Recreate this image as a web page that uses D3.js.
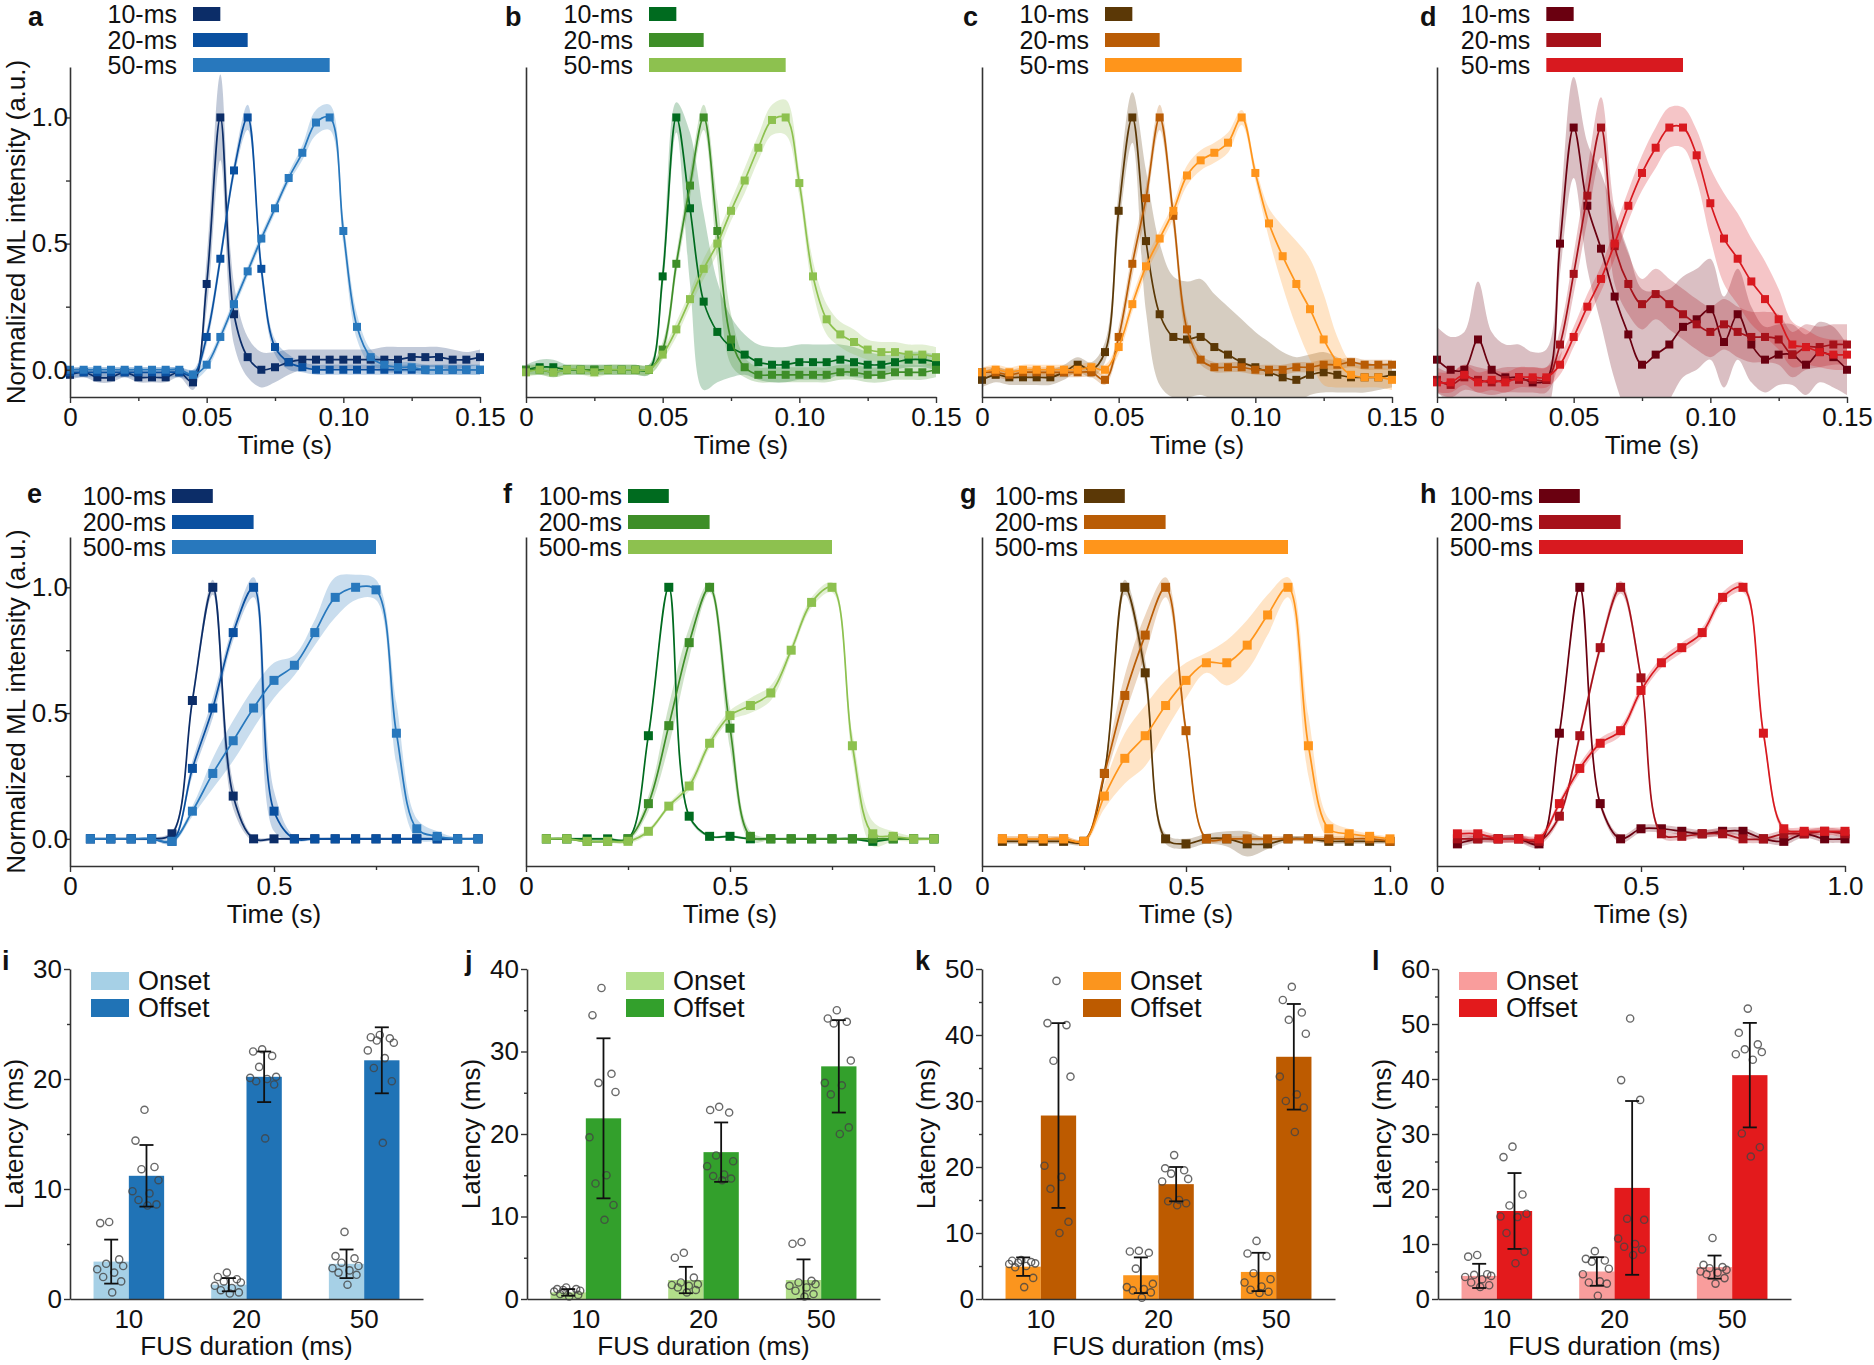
<!DOCTYPE html>
<html><head><meta charset="utf-8">
<script src="https://cdn.jsdelivr.net/npm/d3@7"></script>
<style>body{margin:0;background:#fff}svg{display:block;font-family:"Liberation Sans",Arial,sans-serif}</style>
</head><body><svg id="c" width="1874" height="1365"></svg>
<script>
// ---------------- DATA ----------------
const tShort = [0,0.005,0.01,0.015,0.02,0.025,0.03,0.035,0.04,0.045,0.05,0.055,0.06,0.065,0.07,0.075,0.08,0.085,0.09,0.095,0.1,0.105,0.11,0.115,0.12,0.125,0.13,0.135,0.14,0.145,0.15];
const tLong = [0.05,0.1,0.15,0.2,0.25,0.3,0.35,0.4,0.45,0.5,0.55,0.6,0.65,0.7,0.75,0.8,0.85,0.9,0.95,1.0];
const shortLabels = ["10-ms","20-ms","50-ms"];
const shortDur = [0.01,0.02,0.05];
const shortStarts = [0.045,0.045,0.045,0.04];
const longLabels = ["100-ms","200-ms","500-ms"];
const longDur = [0.1,0.2,0.5];
const longStarts = [0.25,0.25,0.25,0.25];
const shortTicks = [0,0.05,0.1,0.15];
const shortTickLabels = ["0","0.05","0.10","0.15"];
const shortMinor = [0.025,0.075,0.125];
const longTicks = [0,0.5,1.0];
const longTickLabels = ["0","0.5","1.0"];
const longMinor = [0.25,0.75];
const yTicks = [0,0.5,1.0];
const yTickLabels = ["0.0","0.5","1.0"];
const yMinor = [0.25,0.75];

// panel a (blue, short)
const a10 = [-0.02,-0.01,-0.03,-0.03,-0.01,-0.03,-0.03,-0.03,-0.01,-0.05,0.34,1.00,0.22,0.05,0.00,0.01,0.03,0.04,0.04,0.04,0.04,0.04,0.04,0.04,0.04,0.05,0.05,0.05,0.04,0.04,0.05];
const a10sd = [0.02,0.02,0.02,0.02,0.02,0.02,0.02,0.02,0.02,0.03,0.10,0.17,0.12,0.08,0.07,0.06,0.05,0.04,0.04,0.04,0.04,0.04,0.04,0.05,0.05,0.04,0.04,0.04,0.04,0.03,0.03];
const a20 = [-0.01,-0.01,-0.01,-0.01,-0.01,-0.01,-0.01,-0.01,-0.01,-0.02,0.13,0.44,0.79,1.00,0.40,0.09,0.03,0.01,0.00,0.00,0.00,0.00,0.00,0.00,0.00,0.00,0.00,0.00,0.00,0.00,0.00];
const a20sd = [0.02,0.02,0.02,0.02,0.02,0.02,0.02,0.02,0.02,0.02,0.03,0.03,0.03,0.05,0.04,0.03,0.03,0.02,0.02,0.02,0.02,0.02,0.02,0.02,0.02,0.02,0.02,0.02,0.02,0.02,0.02];
const a50 = [0.00,0.00,0.00,0.00,0.00,0.00,0.00,0.00,0.00,-0.02,0.02,0.13,0.26,0.39,0.52,0.64,0.76,0.86,0.98,1.00,0.55,0.17,0.05,0.02,0.01,0.01,0.00,0.00,0.00,0.00,0.00];
const a50sd = [0.01,0.01,0.01,0.01,0.01,0.01,0.01,0.01,0.01,0.02,0.02,0.02,0.02,0.02,0.02,0.02,0.02,0.03,0.05,0.05,0.05,0.05,0.03,0.02,0.02,0.02,0.02,0.02,0.02,0.02,0.02];
// panel b (green, short)
const b10 = [0.00,0.01,0.01,0.00,0.00,0.00,0.00,0.00,0.00,0.00,0.37,1.00,0.64,0.27,0.15,0.09,0.06,0.03,0.02,0.02,0.03,0.03,0.03,0.04,0.03,0.02,0.02,0.03,0.04,0.04,0.03];
const b10sd = [0.02,0.03,0.03,0.02,0.02,0.02,0.02,0.02,0.02,0.02,0.05,0.06,0.30,0.35,0.20,0.12,0.08,0.07,0.07,0.07,0.07,0.07,0.07,0.06,0.06,0.05,0.04,0.03,0.03,0.03,0.03];
const b20 = [0.00,0.00,-0.01,0.00,0.00,0.00,0.00,0.00,0.00,0.00,0.08,0.42,0.73,1.00,0.55,0.12,0.01,-0.02,-0.02,-0.02,-0.02,-0.02,-0.02,-0.01,-0.01,-0.02,-0.02,-0.01,-0.01,-0.01,0.00];
const b20sd = [0.02,0.02,0.02,0.02,0.02,0.02,0.02,0.02,0.02,0.02,0.03,0.04,0.05,0.05,0.12,0.10,0.04,0.03,0.03,0.03,0.03,0.03,0.03,0.03,0.03,0.03,0.03,0.03,0.03,0.03,0.03];
const b50 = [-0.01,0.00,-0.01,0.00,0.00,-0.01,0.00,0.00,0.00,0.00,0.06,0.16,0.28,0.40,0.50,0.63,0.75,0.88,0.99,1.00,0.74,0.37,0.20,0.14,0.11,0.08,0.07,0.07,0.06,0.06,0.05];
const b50sd = [0.02,0.02,0.02,0.02,0.02,0.02,0.02,0.02,0.02,0.02,0.02,0.03,0.03,0.04,0.04,0.04,0.05,0.05,0.06,0.07,0.05,0.06,0.06,0.05,0.05,0.04,0.04,0.04,0.04,0.04,0.04];
// panel c (orange, short)
const c10 = [-0.04,-0.02,-0.03,-0.03,-0.03,-0.03,-0.01,0.02,0.00,0.07,0.63,1.00,0.51,0.22,0.13,0.12,0.13,0.09,0.06,0.03,0.01,-0.01,-0.03,-0.04,-0.02,-0.01,-0.02,-0.03,-0.03,-0.03,-0.02];
const c10sd = [0.03,0.03,0.03,0.03,0.03,0.03,0.03,0.03,0.03,0.04,0.08,0.10,0.28,0.28,0.24,0.23,0.23,0.21,0.19,0.17,0.14,0.12,0.10,0.09,0.08,0.08,0.07,0.06,0.06,0.05,0.05];
const c20 = [-0.01,-0.01,-0.02,-0.01,-0.01,-0.01,-0.01,-0.01,-0.01,-0.04,0.13,0.42,0.68,1.00,0.61,0.16,0.04,0.01,0.01,0.01,0.00,0.00,0.00,0.01,0.01,0.02,0.02,0.03,0.02,0.02,0.02];
const c20sd = [0.02,0.02,0.02,0.02,0.02,0.02,0.02,0.02,0.02,0.02,0.04,0.05,0.05,0.05,0.05,0.04,0.02,0.02,0.02,0.02,0.02,0.02,0.02,0.02,0.02,0.02,0.02,0.02,0.02,0.02,0.02];
const c50 = [-0.01,0.00,-0.01,0.00,0.00,0.00,0.00,0.00,0.01,0.00,0.09,0.26,0.41,0.52,0.63,0.77,0.83,0.86,0.90,1.00,0.78,0.58,0.45,0.34,0.24,0.12,0.03,-0.02,-0.03,-0.03,-0.04];
const c50sd = [0.02,0.02,0.02,0.02,0.02,0.02,0.02,0.02,0.02,0.02,0.03,0.03,0.03,0.03,0.03,0.04,0.04,0.04,0.04,0.03,0.03,0.06,0.12,0.17,0.20,0.18,0.10,0.05,0.04,0.04,0.04];
// panel d (red, short)
const d10 = [0.04,0.00,0.00,0.12,0.00,-0.03,-0.03,-0.05,-0.04,0.50,0.96,0.65,0.48,0.29,0.14,0.02,0.06,0.10,0.17,0.20,0.24,0.11,0.22,0.10,0.04,0.06,0.06,0.02,0.07,0.05,0.00];
const d10sd = [0.13,0.13,0.15,0.23,0.15,0.13,0.13,0.12,0.12,0.12,0.20,0.25,0.30,0.33,0.33,0.30,0.25,0.22,0.20,0.20,0.20,0.18,0.18,0.15,0.13,0.12,0.12,0.12,0.12,0.12,0.10];
const d20 = [-0.04,-0.06,-0.03,-0.04,-0.05,-0.04,-0.04,-0.04,-0.04,0.10,0.38,0.69,0.96,0.49,0.34,0.26,0.30,0.26,0.22,0.18,0.15,0.18,0.15,0.13,0.13,0.12,0.06,0.09,0.09,0.10,0.10];
const d20sd = [0.05,0.05,0.05,0.05,0.05,0.05,0.05,0.05,0.05,0.06,0.08,0.10,0.12,0.15,0.12,0.10,0.10,0.10,0.10,0.10,0.10,0.10,0.10,0.10,0.10,0.10,0.09,0.09,0.08,0.08,0.08];
const d50 = [-0.05,-0.05,-0.02,-0.05,-0.04,-0.05,-0.03,-0.03,-0.03,0.02,0.13,0.25,0.36,0.50,0.65,0.78,0.88,0.96,0.96,0.85,0.66,0.52,0.44,0.35,0.28,0.20,0.10,0.09,0.07,0.06,0.06];
const d50sd = [0.04,0.04,0.04,0.04,0.04,0.04,0.04,0.04,0.04,0.04,0.04,0.05,0.05,0.06,0.06,0.07,0.08,0.08,0.08,0.10,0.14,0.18,0.18,0.17,0.15,0.12,0.09,0.07,0.06,0.06,0.06];
// panel e (blue, long)
const e100 = [0.00,0.00,0.00,0.00,0.02,0.55,1.00,0.17,0.00,0.00,0.00,0.00,0.00,0.00,0.00,0.00,0.00,0.00,0.00,0.00];
const e100sd = [0.005,0.005,0.005,0.005,0.01,0.02,0.03,0.05,0.01,0.005,0.005,0.005,0.005,0.005,0.005,0.005,0.005,0.005,0.005,0.005];
const e200 = [0.00,0.00,0.00,0.00,-0.01,0.28,0.52,0.82,1.00,0.11,0.00,0.00,0.00,0.00,0.00,0.00,0.00,0.00,0.00,0.00];
const e200sd = [0.005,0.005,0.005,0.005,0.01,0.03,0.04,0.03,0.04,0.08,0.01,0.005,0.005,0.005,0.005,0.005,0.005,0.005,0.005,0.005];
const e500 = [0.00,0.00,0.00,0.00,-0.01,0.11,0.26,0.39,0.52,0.63,0.69,0.82,0.96,1.00,0.99,0.42,0.04,0.01,0.00,0.00];
const e500sd = [0.005,0.005,0.005,0.005,0.01,0.02,0.06,0.08,0.08,0.07,0.04,0.05,0.08,0.05,0.04,0.12,0.04,0.02,0.005,0.005];
// panel f (green, long)
const f100 = [0.00,0.00,0.00,0.00,0.00,0.41,1.00,0.09,0.01,0.01,0.00,0.00,0.00,0.00,0.00,0.00,-0.01,0.00,0.00,0.00];
const f100sd = [0.005,0.005,0.005,0.005,0.005,0.01,0.01,0.01,0.005,0.005,0.005,0.005,0.005,0.005,0.005,0.005,0.005,0.005,0.005,0.005];
const f200 = [0.00,0.00,-0.01,-0.01,0.00,0.14,0.45,0.78,1.00,0.44,0.01,0.00,0.00,0.00,0.00,0.00,0.00,0.00,0.00,0.00];
const f200sd = [0.005,0.005,0.005,0.005,0.01,0.03,0.08,0.06,0.02,0.08,0.02,0.005,0.005,0.005,0.005,0.005,0.005,0.005,0.005,0.005];
const f500 = [0.00,0.00,-0.01,-0.01,-0.01,0.03,0.13,0.21,0.38,0.49,0.53,0.58,0.75,0.94,1.00,0.37,0.02,0.01,0.00,0.00];
const f500sd = [0.005,0.005,0.005,0.005,0.01,0.01,0.01,0.02,0.02,0.02,0.03,0.03,0.02,0.02,0.02,0.05,0.05,0.02,0.01,0.005];
// panel g (orange, long)
const g100 = [-0.01,-0.01,-0.01,-0.01,-0.01,0.26,1.00,0.66,0.00,-0.02,0.00,0.00,-0.02,-0.02,0.00,0.00,-0.01,-0.01,-0.01,-0.01];
const g100sd = [0.01,0.01,0.01,0.01,0.01,0.02,0.03,0.05,0.02,0.02,0.02,0.03,0.05,0.02,0.01,0.01,0.01,0.01,0.01,0.01];
const g200 = [0.00,0.00,0.00,0.00,-0.01,0.26,0.57,0.81,1.00,0.43,0.00,0.00,0.00,0.00,0.00,0.00,0.00,0.00,0.00,-0.01];
const g200sd = [0.01,0.01,0.01,0.01,0.01,0.03,0.08,0.08,0.04,0.03,0.01,0.01,0.01,0.01,0.01,0.01,0.01,0.01,0.01,0.01];
const g500 = [0.00,0.00,0.00,0.00,-0.01,0.17,0.32,0.41,0.53,0.63,0.70,0.70,0.77,0.89,1.00,0.37,0.04,0.02,0.01,0.00];
const g500sd = [0.01,0.01,0.01,0.01,0.01,0.05,0.10,0.12,0.10,0.07,0.04,0.09,0.10,0.08,0.04,0.12,0.04,0.02,0.01,0.01];
// panel h (red, long)
const h100 = [-0.02,0.00,0.00,0.00,-0.02,0.42,1.00,0.14,0.00,0.04,0.04,0.03,0.02,0.03,0.03,0.00,-0.01,0.02,0.00,0.00];
const h100sd = [0.015,0.015,0.015,0.015,0.015,0.015,0.015,0.015,0.015,0.015,0.015,0.015,0.015,0.015,0.015,0.015,0.015,0.015,0.015,0.015];
const h200 = [0.00,0.00,0.00,0.00,-0.01,0.09,0.41,0.76,1.00,0.64,0.02,0.01,0.02,0.02,0.00,0.00,0.02,0.02,0.03,0.02];
const h200sd = [0.015,0.015,0.015,0.015,0.015,0.015,0.02,0.02,0.025,0.02,0.015,0.015,0.015,0.015,0.015,0.015,0.015,0.015,0.015,0.015];
const h500 = [0.02,0.02,0.00,0.00,0.00,0.14,0.28,0.38,0.43,0.59,0.70,0.76,0.82,0.96,1.00,0.42,0.04,0.03,0.03,0.03];
const h500sd = [0.015,0.015,0.015,0.015,0.015,0.015,0.02,0.02,0.02,0.02,0.02,0.02,0.02,0.02,0.02,0.02,0.015,0.015,0.015,0.015];

// bar charts
const barCats = ["10","20","50"];
const iOnMean = [3.4,1.3,3.2], iOnSD = [2.0,0.6,1.3], iOffMean = [11.2,20.2,21.7], iOffSD = [2.8,2.3,3.0];
const iOnDots = [[7.0,6.9,3.6,3.2,3.0,2.7,2.4,2.0,1.6,0.6],[2.4,2.0,1.8,1.6,1.5,1.2,1.0,0.8,0.6,0.5],[6.1,3.9,3.7,3.3,3.0,2.8,2.6,2.4,2.2,1.3]];
const iOffDots = [[17.2,14.4,12.0,11.8,10.8,9.8,9.6,9.0,8.6,8.5],[22.7,22.5,22.1,21.1,20.2,20.1,20.0,19.8,19.5,14.6],[24.0,23.8,23.7,23.5,23.3,22.6,21.9,21.0,19.8,14.2]];
const jOnMean = [0.8,2.3,2.3], jOnSD = [0.4,1.6,2.5], jOffMean = [21.9,17.8,28.2], jOffSD = [9.7,3.6,5.6];
const jOnDots = [[1.4,1.2,1.2,1.1,1.0,0.9,0.8,0.6,0.5,0.3],[5.6,5.0,2.6,2.0,1.8,1.7,1.6,1.4,1.1,0.8],[6.9,6.7,2.2,2.0,1.8,1.6,1.4,1.0,0.6,0.3]];
const jOffDots = [[37.7,34.4,27.3,26.2,25.1,19.6,15.0,14.0,11.4,9.6],[23.3,22.9,22.6,17.4,16.7,16.1,15.1,14.9,14.6,14.4],[35.0,34.0,33.6,33.4,28.9,26.2,25.9,24.8,20.8,20.0]];
const kOnMean = [4.9,3.6,4.1], kOnSD = [1.4,2.7,2.9], kOffMean = [27.8,17.4,36.7], kOffSD = [14.0,2.6,8.0];
const kOnDots = [[5.9,5.8,5.6,5.5,5.4,5.3,5.0,4.8,3.2,1.8],[7.3,7.2,7.0,4.6,2.3,1.8,1.5,1.3,1.0,0.2],[8.8,6.9,6.5,3.9,3.0,2.5,1.9,1.4,1.1,0.9]];
const kOffDots = [[48.2,41.8,41.5,36.1,33.7,20.2,18.5,16.7,11.7,10.0],[21.8,19.8,19.5,19.0,18.2,17.8,15.0,14.8,14.5,14.2],[47.3,45.3,43.4,42.3,40.2,33.7,31.0,30.0,29.0,25.3]];
const lOnMean = [4.2,5.0,5.8], lOnSD = [2.2,2.6,2.1], lOffMean = [16.0,20.2,40.7], lOffSD = [6.9,15.8,9.5];
const lOnDots = [[8.0,7.7,4.5,4.4,4.2,4.0,3.6,3.0,2.5,2.2],[8.7,7.3,7.0,6.8,5.5,4.5,3.2,3.0,2.8,0.6],[11.1,6.2,5.8,5.6,5.3,5.0,4.8,4.5,3.8,2.8]];
const lOffDots = [[27.7,25.8,19.0,17.0,15.5,15.0,14.9,12.0,8.6,6.5],[51.0,39.8,36.2,14.6,14.4,11.0,10.0,9.5,9.0,8.0],[52.8,48.4,46.3,45.4,44.9,44.5,43.5,30.1,27.6,25.9]];

// ---------------- DRAWING ----------------
const svg = d3.select("#c");
svg.append("rect").attr("width",1874).attr("height",1365).attr("fill","#fff");
const FONT = 26;
const AX = "#333";
const Y_DOMAIN = [-0.108, 1.2];

const blues = ["#0c2d68","#0a50a0","#2878bd"];
const greens = ["#006b1f","#3e8e28","#8dc14f"];
const oranges = ["#5b3806","#b95c05","#ff951b"];
const reds = ["#6a0010","#a6111a","#d8191f"];

function styleAxis(sel){
  sel.select(".domain").attr("stroke",AX).attr("stroke-width",1.6);
  sel.selectAll(".tick line").attr("stroke",AX).attr("stroke-width",1.4);
  sel.selectAll("text").attr("font-size",FONT).attr("fill","#111").attr("font-family",'"Liberation Sans",Arial,sans-serif');
}
function letter(txt,x,y){
  svg.append("text").attr("x",x).attr("y",y).attr("font-size",27).attr("font-weight","bold").attr("fill","#111").text(txt);
}

let clipN = 0;
function linePanel(p){
  const g = svg.append("g");
  const x = d3.scaleLinear().domain([0,p.xmax]).range([p.x0,p.x0+p.w]);
  const y = d3.scaleLinear().domain(Y_DOMAIN).range([p.bottom,p.top]);
  const cid = "clip"+(clipN++);
  svg.append("clipPath").attr("id",cid).append("rect")
    .attr("x",p.x0).attr("y",p.top).attr("width",p.w).attr("height",p.bottom-p.top);
  const gb = g.append("g").attr("clip-path",`url(#${cid})`);
  p.series.forEach((s,k)=>{
    const area = d3.area().curve(d3.curveCatmullRom)
      .x((d,i)=>x(p.t[i])).y0((d,i)=>y(d - s.sd[i])).y1((d,i)=>y(d + s.sd[i]));
    gb.append("path").attr("d",area(s.v)).attr("fill",p.colors[k]).attr("fill-opacity",0.25);
  });
  p.series.forEach((s,k)=>{
    const line = d3.line().curve(d3.curveCatmullRom).x((d,i)=>x(p.t[i])).y(d=>y(d));
    g.append("path").attr("d",line(s.v)).attr("fill","none").attr("stroke",p.colors[k]).attr("stroke-width",1.7);
    g.selectAll(null).data(s.v).join("rect")
      .attr("x",(d,i)=>x(p.t[i])-p.ms/2).attr("y",d=>y(d)-p.ms/2).attr("width",p.ms).attr("height",p.ms)
      .attr("fill",p.colors[k]);
  });
  // x axis
  const xa = g.append("g").attr("transform",`translate(0,${p.bottom})`)
    .call(d3.axisBottom(x).tickValues(p.xticks).tickFormat((d,i)=>p.xlabels[i]).tickSize(6).tickPadding(5).tickSizeOuter(0));
  styleAxis(xa);
  const xm = g.append("g").attr("transform",`translate(0,${p.bottom})`)
    .call(d3.axisBottom(x).tickValues(p.xminor).tickFormat("").tickSize(4).tickSizeOuter(0));
  xm.select(".domain").remove(); styleAxis(xm);
  // y axis
  const ya = g.append("g").attr("transform",`translate(${p.x0},0)`)
    .call(d3.axisLeft(y).tickValues(p.showY ? yTicks : []).tickFormat((d,i)=>yTickLabels[i]).tickSize(4).tickPadding(-2).tickSizeOuter(0));
  styleAxis(ya);
  if(p.showY){
    const ym = g.append("g").attr("transform",`translate(${p.x0},0)`)
      .call(d3.axisLeft(y).tickValues(yMinor).tickFormat("").tickSize(4).tickSizeOuter(0));
    ym.select(".domain").remove(); styleAxis(ym);
    g.append("text").attr("transform",`translate(${p.x0-45},${(p.top+p.bottom)/2}) rotate(-90)`)
      .attr("text-anchor","middle").attr("font-size",FONT).attr("fill","#111").text("Normalized ML intensity (a.u.)");
  }
  g.append("text").attr("x",p.x0+p.w/2+p.tlabOff).attr("y",p.bottom+57).attr("text-anchor","middle")
    .attr("font-size",FONT).attr("fill","#111").text("Time (s)");
  // legend bars (scaled to the time axis)
  p.legend.forEach((lab,k)=>{
    const cy = p.top + p.legOff[k];
    g.append("rect").attr("x",x(p.start)).attr("y",cy-7).attr("width",x(p.start+p.dur[k])-x(p.start)).attr("height",14)
      .attr("fill",p.colors[k]);
    g.append("text").attr("x",x(p.start)-p.gap).attr("y",cy+9).attr("text-anchor","end")
      .attr("font-size",25).attr("fill","#111").text(lab);
  });
}

const COLX = [70,526,982,1437];
const row1 = {top:67,bottom:397,w:410,xmax:0.15,t:tShort,xticks:shortTicks,xlabels:shortTickLabels,xminor:shortMinor,
  legend:shortLabels,dur:shortDur,legOff:[-53,-27,-2],gap:16,tlabOff:10,ms:8};
const row2 = {top:537,bottom:866,w:408,xmax:1.0,t:tLong,xticks:longTicks,xlabels:longTickLabels,xminor:longMinor,
  legend:longLabels,dur:longDur,legOff:[-41,-15,10],gap:6,tlabOff:0,ms:9};

const r1Series = [
  [{v:a10,sd:a10sd},{v:a20,sd:a20sd},{v:a50,sd:a50sd}],
  [{v:b10,sd:b10sd},{v:b20,sd:b20sd},{v:b50,sd:b50sd}],
  [{v:c10,sd:c10sd},{v:c20,sd:c20sd},{v:c50,sd:c50sd}],
  [{v:d10,sd:d10sd},{v:d20,sd:d20sd},{v:d50,sd:d50sd}]];
const r2Series = [
  [{v:e100,sd:e100sd},{v:e200,sd:e200sd},{v:e500,sd:e500sd}],
  [{v:f100,sd:f100sd},{v:f200,sd:f200sd},{v:f500,sd:f500sd}],
  [{v:g100,sd:g100sd},{v:g200,sd:g200sd},{v:g500,sd:g500sd}],
  [{v:h100,sd:h100sd},{v:h200,sd:h200sd},{v:h500,sd:h500sd}]];
const palettes = [blues,greens,oranges,reds];
for(let c=0;c<4;c++){
  linePanel(Object.assign({},row1,{x0:COLX[c],series:r1Series[c],colors:palettes[c],showY:c===0,start:shortStarts[c]}));
  linePanel(Object.assign({},row2,{x0:COLX[c],series:r2Series[c],colors:palettes[c],showY:c===0,start:longStarts[c]}));
}

// bar panels
const BTOP = 969, BBOT = 1299, BW = 353;
const JIT = [-2,-11,8,-5,12,-14,3,-8,10,1];
function barPanel(p){
  const g = svg.append("g");
  const x = d3.scaleBand().domain(barCats).range([p.x0,p.x0+BW]).padding(0);
  const y = d3.scaleLinear().domain([0,p.ymax]).range([BBOT,BTOP]);
  const bw = x.bandwidth()*0.3;
  const groups = [
    {m:p.onM,sd:p.onSD,dots:p.onDots,col:p.cOn,side:-1},
    {m:p.offM,sd:p.offSD,dots:p.offDots,col:p.cOff,side:0}];
  barCats.forEach((c,i)=>{
    const cx = x(c)+x.bandwidth()/2;
    groups.forEach(gr=>{
      const bx = gr.side<0 ? cx-bw : cx;
      g.append("rect").attr("x",bx).attr("y",y(gr.m[i])).attr("width",bw).attr("height",BBOT-y(gr.m[i])).attr("fill",gr.col);
    });
  });
  barCats.forEach((c,i)=>{
    const cx = x(c)+x.bandwidth()/2;
    groups.forEach(gr=>{
      const mx = (gr.side<0 ? cx-bw : cx) + bw/2;
      gr.dots[i].forEach((v,j)=>{
        g.append("circle").attr("cx",mx+JIT[j]).attr("cy",y(v)).attr("r",3.6)
          .attr("fill","none").attr("stroke","#444").attr("stroke-opacity",0.8).attr("stroke-width",1.4);
      });
      const hi = y(gr.m[i]+gr.sd[i]), lo = y(Math.max(0,gr.m[i]-gr.sd[i]));
      g.append("line").attr("x1",mx).attr("x2",mx).attr("y1",hi).attr("y2",lo).attr("stroke","#111").attr("stroke-width",1.8);
      [hi,lo].forEach(yy=>g.append("line").attr("x1",mx-7).attr("x2",mx+7).attr("y1",yy).attr("y2",yy).attr("stroke","#111").attr("stroke-width",1.8));
    });
  });
  const xa = g.append("g").attr("transform",`translate(0,${BBOT})`)
    .call(d3.axisBottom(x).tickSize(0).tickPadding(11).tickSizeOuter(0));
  styleAxis(xa);
  const ya = g.append("g").attr("transform",`translate(${p.x0},0)`)
    .call(d3.axisLeft(y).tickValues(d3.range(0,p.ymax+1,10)).tickSize(6).tickPadding(2).tickSizeOuter(0));
  styleAxis(ya);
  const ym = g.append("g").attr("transform",`translate(${p.x0},0)`)
    .call(d3.axisLeft(y).tickValues(d3.range(5,p.ymax,10)).tickFormat("").tickSize(3).tickSizeOuter(0));
  ym.select(".domain").remove(); styleAxis(ym);
  g.append("text").attr("transform",`translate(${p.x0-47},${(BTOP+BBOT)/2}) rotate(-90)`)
    .attr("text-anchor","middle").attr("font-size",FONT).attr("fill","#111").text("Latency (ms)");
  g.append("text").attr("x",p.x0+BW/2).attr("y",1355).attr("text-anchor","middle")
    .attr("font-size",FONT).attr("fill","#111").text("FUS duration (ms)");
  // legend
  [["Onset",p.cOn,972],["Offset",p.cOff,999]].forEach(([lab,col,yy])=>{
    g.append("rect").attr("x",p.x0+p.legX).attr("y",yy).attr("width",38).attr("height",18).attr("fill",col);
    g.append("text").attr("x",p.x0+p.legX+47).attr("y",yy+18).attr("font-size",FONT+1).attr("fill","#111").text(lab);
  });
}
barPanel({x0:70,ymax:30,onM:iOnMean,onSD:iOnSD,offM:iOffMean,offSD:iOffSD,onDots:iOnDots,offDots:iOffDots,cOn:"#a6d0e6",cOff:"#2073b6",legX:21});
barPanel({x0:527,ymax:40,onM:jOnMean,onSD:jOnSD,offM:jOffMean,offSD:jOffSD,onDots:jOnDots,offDots:jOffDots,cOn:"#b2df8a",cOff:"#33a02c",legX:99});
barPanel({x0:982,ymax:50,onM:kOnMean,onSD:kOnSD,offM:kOffMean,offSD:kOffSD,onDots:kOnDots,offDots:kOffDots,cOn:"#fb951e",cOff:"#bd5b00",legX:101});
barPanel({x0:1438,ymax:60,onM:lOnMean,onSD:lOnSD,offM:lOffMean,offSD:lOffSD,onDots:lOnDots,offDots:lOffDots,cOn:"#f99d9c",cOff:"#e31a1c",legX:21});

// panel letters
letter("a",28,26); letter("b",505,26); letter("c",963,26); letter("d",1420,26);
letter("e",27,503); letter("f",503,503); letter("g",960,503); letter("h",1420,503);
letter("i",2,970); letter("j",465,970); letter("k",915,970); letter("l",1372,970);
</script></body></html>
